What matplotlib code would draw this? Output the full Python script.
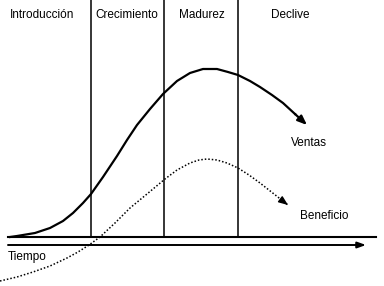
"""Product life cycle diagram (ventas / beneficio)."""
import matplotlib.pyplot as plt

plt.rcParams["font.family"] = ["Liberation Sans", "DejaVu Sans"]

# stage names and the time where each stage ends
stages = ["Introducción", "Crecimiento", "Madurez", "Declive"]
stage_bounds = [91, 164, 238]
stage_label_x = [42, 127, 202, 290]

# sales curve (time, level above baseline)
ventas_t = [10, 17, 35, 50, 63, 73, 83, 91, 103, 117, 127, 137, 150, 163,
            177, 190, 203, 217, 228, 238, 250, 260, 272, 283, 295, 307]
ventas_v = [0, 1, 4, 9, 16, 24, 34, 43, 60, 81, 97, 112, 128, 143,
            156, 164, 168, 168, 165, 162, 156, 150, 142, 134, 123, 112]

# profit curve
beneficio_t = [0, 17, 33, 50, 67, 78, 89, 100, 115, 130, 147, 165, 177,
               190, 199, 207, 217, 227, 238, 249, 260, 274, 288]
beneficio_v = [-44, -40, -35, -29, -21, -15, -8, 0, 14, 29, 43, 58, 67,
               74, 77, 78, 77, 74, 69, 62, 54, 43, 32]

fig = plt.figure(figsize=(3.84, 2.86), dpi=100)
ax = fig.add_axes([0, 0, 1, 1])
ax.set_xlim(0, 384)
ax.set_ylim(-49, 237)
ax.axis("off")

for b in stage_bounds:
    ax.plot([b, b], [0, 237], color="black", lw=1.1, solid_capstyle="butt")

for name, x in zip(stages, stage_label_x):
    ax.text(x, 222, name, ha="center", va="center", fontsize=8.5)

# baseline and time axis
ax.plot([8, 376], [0, 0], color="black", lw=1.5)
ax.annotate("", xy=(366, -8), xytext=(8, -8),
            arrowprops=dict(arrowstyle="-|>,head_length=0.5,head_width=0.18",
                            color="black", lw=1.4, shrinkA=0, shrinkB=0))
ax.text(8, -20, "Tiempo", ha="left", va="center", fontsize=8.5)

# ventas
ax.plot(ventas_t[:-1], ventas_v[:-1], color="black", lw=1.6)
ax.annotate("", xy=(ventas_t[-1], ventas_v[-1]), xytext=(ventas_t[-2], ventas_v[-2]),
            arrowprops=dict(arrowstyle="-|>,head_length=0.55,head_width=0.22",
                            color="black", lw=1.6, shrinkA=0, shrinkB=0))
ax.text(309, 94, "Ventas", ha="center", va="center", fontsize=8.5)

# beneficio
ax.plot(beneficio_t, beneficio_v, color="black", lw=1.1, ls=(0, (1, 1.3)))
ax.annotate("", xy=(beneficio_t[-1], beneficio_v[-1]),
            xytext=(beneficio_t[-1] - 4, beneficio_v[-1] + 3),
            arrowprops=dict(arrowstyle="-|>,head_length=0.55,head_width=0.22",
                            color="black", lw=1.0, shrinkA=0, shrinkB=0))
ax.text(324, 21, "Beneficio", ha="center", va="center", fontsize=8.5)

fig.savefig("out.png", dpi=100)
